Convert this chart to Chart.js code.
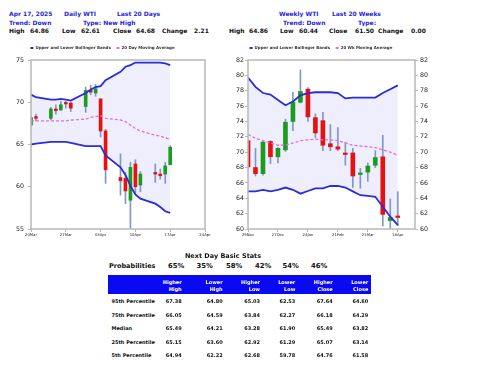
<!DOCTYPE html>
<html>
<head>
<meta charset="utf-8">
<script src="https://cdn.jsdelivr.net/npm/chart.js@4.4.0/dist/chart.umd.min.js"></script>
<style>
  body { margin: 0; background: #fff; font-family: "DejaVu Sans", sans-serif; font-weight: bold; }
  #page { position: relative; width: 480px; height: 371px; overflow: hidden; }
  .t { position: absolute; white-space: nowrap; line-height: 10px; height: 10px; }
  canvas { position: absolute; }
</style>
</head>
<body>
<div id="page">
  <canvas id="dailyChart" width="240" height="197" style="left:0;top:46px"></canvas>
  <canvas id="weeklyChart" width="238" height="197" style="left:202px;top:46px"></canvas>
</div>
<script>
// daily WTI, last 20 days
const dailyDates = ['2025-03-20', '2025-03-21', '2025-03-24', '2025-03-25', '2025-03-26', '2025-03-27', '2025-03-28',
  '2025-03-31', '2025-04-01', '2025-04-02', '2025-04-03', '2025-04-04', '2025-04-07', '2025-04-08', '2025-04-09',
  '2025-04-10', '2025-04-11', '2025-04-14', '2025-04-15', '2025-04-16', '2025-04-17'];
const dailyOpen = [67.3, 68.3, 68.1, 69.2, 69.1, 69.9, 69.9, 69.5, 71.4, 71.1, 70.4, 66.6, 61.1, 61.0, 58.4, 62.7, 60.2, 61.7, 61.5, 61.5, 62.6];
const dailyHigh = [68.3, 68.6, 69.4, 69.7, 70.1, 70.1, 70.0, 71.8, 72.0, 72.1, 70.4, 66.8, 63.9, 61.7, 62.9, 63.2, 61.8, 62.7, 62.1, 62.9, 64.86];
const dailyLow = [67.2, 67.8, 67.9, 68.6, 69.0, 69.3, 68.9, 68.8, 70.9, 70.7, 65.9, 60.4, 59.0, 58.0, 55.1, 59.3, 59.4, 60.5, 60.9, 60.4, 62.61];
const dailyClose = [68.2, 68.1, 69.2, 69.0, 69.7, 69.8, 69.3, 71.4, 71.2, 71.6, 66.6, 62.0, 60.7, 59.5, 62.3, 60.0, 61.5, 61.5, 61.3, 62.47, 64.68];
const dailyUpper = [70.9, 70.6, 70.3, 70.3, 70.4, 70.3, 70.2, 71.1, 71.5, 71.8, 71.9, 72.6, 73.6, 74.2, 74.4, 74.7, 74.7, 74.7, 74.7, 74.6, 74.4];
const dailyLower = [65.0, 65.1, 65.3, 65.3, 65.3, 65.3, 65.2, 64.8, 64.8, 64.8, 64.8, 63.7, 62.3, 61.4, 60.1, 59.1, 58.6, 58.0, 57.6, 57.1, 56.9];
const dailyAverage = [67.8, 67.8, 67.8, 67.8, 67.8, 67.8, 67.9, 68.0, 68.2, 68.3, 68.4, 68.1, 67.9, 67.7, 67.3, 66.9, 66.6, 66.1, 66.0, 65.8, 65.6];
const dailyTickDates = ['2025-03-20', '2025-03-27', '2025-04-03', '2025-04-10', '2025-04-17', '2025-04-24'];
const dailyTickLabels = ['20Mar', '27Mar', '03Apr', '10Apr', '17Apr', '24Apr'];

// weekly WTI, last 20 weeks
const weeklyDates = ['2024-11-29', '2024-12-06', '2024-12-13', '2024-12-20', '2024-12-27', '2025-01-03', '2025-01-10',
  '2025-01-17', '2025-01-24', '2025-01-31', '2025-02-07', '2025-02-14', '2025-02-21', '2025-02-28', '2025-03-07',
  '2025-03-14', '2025-03-21', '2025-03-28', '2025-04-04', '2025-04-11', '2025-04-18'];
const weeklyOpen = [71.5, 68.0, 67.2, 71.4, 69.4, 70.3, 74.0, 76.5, 78.2, 74.5, 74.1, 71.1, 70.7, 69.8, 69.9, 67.1, 67.4, 68.3, 69.4, 61.1, 61.7];
const weeklyHigh = [71.6, 70.5, 71.4, 71.5, 70.6, 74.3, 77.8, 80.7, 78.4, 75.0, 75.2, 73.6, 73.2, 71.3, 70.5, 67.9, 68.6, 70.2, 72.2, 63.9, 64.86];
const weeklyLow = [67.9, 66.9, 67.0, 68.5, 68.6, 70.1, 72.8, 76.4, 74.0, 71.9, 70.2, 70.2, 70.2, 68.3, 65.4, 65.3, 66.2, 68.0, 60.4, 59.5, 60.44];
const weeklyClose = [68.1, 67.2, 71.3, 69.4, 70.5, 73.9, 76.5, 77.9, 74.6, 72.5, 70.9, 70.7, 70.4, 69.7, 66.9, 67.2, 68.2, 69.3, 61.9, 61.5, 61.50];
const weeklyUpper = [79.7, 78.5, 77.7, 77.5, 76.8, 76.1, 76.6, 77.4, 77.7, 77.8, 77.8, 77.8, 77.7, 77.0, 77.1, 77.1, 77.1, 77.1, 77.7, 78.2, 78.7];
const weeklyLower = [64.9, 64.9, 65.1, 64.9, 65.1, 65.4, 65.1, 64.6, 64.95, 65.3, 65.3, 65.6, 65.6, 65.4, 64.9, 64.4, 64.3, 64.2, 62.9, 61.6, 60.5];
const weeklyAverage = [72.3, 71.8, 71.5, 71.2, 70.9, 70.9, 71.2, 71.5, 71.6, 71.7, 71.6, 71.6, 71.5, 71.2, 70.9, 70.8, 70.7, 70.6, 70.3, 70.0, 69.6];
const weeklyTickDates = ['2024-11-29', '2024-12-27', '2025-01-24', '2025-02-21', '2025-03-21', '2025-04-18'];
const weeklyTickLabels = ['29Nov', '27Dec', '24Jan', '21Feb', '21Mar', '18Apr'];

// header texts
const dailyTitle = ['Apr 17, 2025', 'Daily WTI', 'Last 20 Days'];
const dailyTrend = ['Trend: Down', 'Type: New High'];
const weeklyTitle = ['Weekly WTI', 'Last 20 Weeks'];
const weeklyTrend = ['Trend: Down', 'Type:'];
const quoteNames = ['High', 'Low', 'Close', 'Change'];
const dailyQuote = ['64.86', '62.61', '64.68', '2.21'];
const weeklyQuote = ['64.86', '60.44', '61.50', '0.00'];

// next day stats table
const probabilities = ['65%', '35%', '58%', '42%', '54%', '46%'];
const statHeaders = [['Higher', 'High'], ['Lower', 'High'], ['Higher', 'Low'], ['Lower', 'Low'], ['Higher', 'Close'], ['Lower', 'Close']];
const statRows = ['95th Percentile', '75th Percentile', 'Median', '25th Percentile', '5th Percentile'];
const higherHigh = ['67.38', '66.05', '65.49', '65.15', '64.94'];
const lowerHigh = ['64.80', '64.59', '64.21', '63.60', '62.22'];
const higherLow = ['65.03', '63.84', '63.28', '62.92', '62.68'];
const lowerLow = ['62.53', '62.27', '61.90', '61.29', '59.78'];
const higherClose = ['67.64', '66.18', '65.49', '65.07', '64.76'];
const lowerClose = ['64.60', '64.29', '63.82', '63.14', '61.58'];

const BLUE_TEXT = '#1f1fe0';
const UP = '#1c9c1c';
const DOWN = '#e51212';
const WICK = '#8097c8';
const BAND = '#2b2bdb';
const AVG = '#e070e0';
const BAND_FILL = '#eeeefc';
const AXIS = '#b8b8b8';

const page = document.getElementById('page');

function put(text, x, y, size, color, align) {
	const el = document.createElement('div');
	el.className = 't';
	el.textContent = text;
	el.style.left = x + 'px';
	el.style.top = (y - 5) + 'px';
	el.style.fontSize = size + 'px';
	el.style.color = color;
	if (align === 'right') el.style.transform = 'translateX(-100%)';
	if (align === 'center') el.style.transform = 'translateX(-50%)';
	page.appendChild(el);
}

// headers
[9, 64, 117].forEach((x, i) => put(dailyTitle[i], x, 14, 6, BLUE_TEXT));
[9, 83].forEach((x, i) => put(dailyTrend[i], x, 22.7, 6, BLUE_TEXT));
[279, 332].forEach((x, i) => put(weeklyTitle[i], x, 14, 6, BLUE_TEXT));
[283, 358].forEach((x, i) => put(weeklyTrend[i], x, 22.7, 6, BLUE_TEXT));
[9, 62, 113, 162].forEach((x, i) => put(quoteNames[i], x, 31.3, 6, '#111'));
[30, 81, 136, 194].forEach((x, i) => put(dailyQuote[i], x, 31.3, 6, '#111'));
[229, 280, 329, 378].forEach((x, i) => put(quoteNames[i], x, 31.3, 6, '#111'));
[249, 299, 355, 411].forEach((x, i) => put(weeklyQuote[i], x, 31.3, 6, '#111'));

// table
put('Next Day Basic Stats', 223, 256, 6.5, '#111', 'center');
put('Probabilities', 109, 265.7, 6.5, '#111');
[168, 196.5, 226, 255, 282.5, 311].forEach((x, i) => put(probabilities[i], x, 265.7, 6.8, '#111'));

const bar = document.createElement('div');
bar.style.cssText = 'position:absolute;left:108px;top:275px;width:263px;height:19px;background:#0a0af2';
page.appendChild(bar);

const colRight = [181.7, 222.7, 260, 295.3, 332.7, 368.3];
const columns = [higherHigh, lowerHigh, higherLow, lowerLow, higherClose, lowerClose];
statHeaders.forEach((h, i) => {
	put(h[0], colRight[i], 282, 5, '#fff', 'right');
	put(h[1], colRight[i], 288.7, 5, '#fff', 'right');
});
const rowY = [301, 315, 328, 341.7, 354.7];
statRows.forEach((name, r) => {
	put(name, 111.5, rowY[r], 5, '#111');
	columns.forEach((col, c) => put(col[r], colRight[c], rowY[r], 5, '#111', 'right'));
});

// charts
const DAY = 86400000;
function offsetDays(date, start) {
	return (Date.parse(date) - Date.parse(start)) / DAY;
}

const frame = {
	id: 'frame',
	afterDraw(chart) {
		const { ctx, chartArea: a } = chart;
		ctx.save();
		ctx.strokeStyle = AXIS;
		ctx.lineWidth = 1.5;
		ctx.strokeRect(a.left, a.top, a.right - a.left, a.bottom - a.top);
		ctx.restore();
	}
};

function legendLabels(chart) {
	return Chart.defaults.plugins.legend.labels.generateLabels(chart)
		.filter(item => item.datasetIndex === 0 || item.datasetIndex === 2)
		.map(item => Object.assign(item, {
			fillStyle: item.strokeStyle,
			lineWidth: 0,
			lineDash: [],
			text: item.datasetIndex === 0 ? item.text + '    ' : item.text
		}));
}

function buildDatasets(xs, open, high, low, close, upper, lower, average, avgLabel, bodyWidth) {
	const pts = values => xs.map((x, i) => ({ x: x, y: values[i] }));
	return [
		{ type: 'line', label: 'Upper and Lower Bollinger Bands', data: pts(upper), borderColor: BAND, borderWidth: 1.8,
			backgroundColor: BAND_FILL, fill: '+1', pointRadius: 0, tension: 0, order: 0 },
		{ type: 'line', label: 'Lower Band', data: pts(lower), borderColor: BAND, borderWidth: 1.8,
			fill: false, pointRadius: 0, tension: 0, order: 0 },
		{ type: 'line', label: avgLabel, data: pts(average), borderColor: AVG, borderWidth: 1.3, borderDash: [3, 2],
			fill: false, pointRadius: 0, tension: 0, order: 0 },
		{ type: 'bar', label: 'Body', data: xs.map((x, i) => ({ x: x, y: [open[i], close[i]] })),
			backgroundColor: close.map((c, i) => c >= open[i] ? UP : DOWN),
			barThickness: bodyWidth, grouped: false, minBarLength: 1.5, order: 1 },
		{ type: 'bar', label: 'Wick', data: xs.map((x, i) => ({ x: x, y: [low[i], high[i]] })),
			backgroundColor: WICK, barThickness: 1, grouped: false, order: 2 }
	];
}

function xAxis(max, tickValues, tickLabels) {
	return {
		type: 'linear', min: 0, max: max, offset: false,
		grid: { drawOnChartArea: false, drawTicks: true, tickLength: 3, color: AXIS, offset: false },
		border: { display: false },
		afterBuildTicks: axis => { axis.ticks = tickValues.map(v => ({ value: v })); },
		afterFit: axis => { axis.height = 14; },
		ticks: { callback: (v, i) => tickLabels[i], autoSkip: false, maxRotation: 0, padding: 1,
			color: '#222', font: { family: 'DejaVu Sans', size: 3.8 } }
	};
}

function yAxis(min, max, step, position, width, padding) {
	return {
		type: 'linear', position: position, min: min, max: max, beginAtZero: false,
		grid: { drawOnChartArea: false, drawTicks: true, tickLength: 3, color: AXIS },
		border: { display: false },
		afterFit: axis => { axis.width = width; },
		ticks: { stepSize: step, padding: padding, color: '#222', font: { family: 'DejaVu Sans', size: 6.3 } }
	};
}

function baseOptions(scales, rightPad) {
	return {
		responsive: false,
		animation: false,
		devicePixelRatio: 1,
		layout: { padding: { left: 0, right: rightPad, top: 0, bottom: 0 } },
		scales: scales,
		plugins: {
			filler: { drawTime: 'beforeDatasetsDraw' },
			tooltip: { enabled: false },
			legend: {
				position: 'top',
				labels: {
					boxWidth: 3, boxHeight: 2, padding: 0, color: '#333',
					font: { family: 'DejaVu Sans', size: 4, weight: 'bold' },
					generateLabels: legendLabels
				}
			}
		}
	};
}

const dailyX = dailyDates.map(d => offsetDays(d, dailyDates[0]));
const dailyTicks = dailyTickDates.map(d => offsetDays(d, dailyDates[0]));

new Chart(document.getElementById('dailyChart'), {
	type: 'bar',
	data: {
		datasets: buildDatasets(dailyX, dailyOpen, dailyHigh, dailyLow, dailyClose,
			dailyUpper, dailyLower, dailyAverage, '20 Day Moving Average', 3)
	},
	options: baseOptions({
		x: xAxis(dailyTicks[dailyTicks.length - 1], dailyTicks, dailyTickLabels),
		y: yAxis(55, 75, 5, 'left', 31, 4)
	}, 35),
	plugins: [frame]
});

const weeklyX = weeklyDates.map(d => offsetDays(d, weeklyDates[0]) / 7);
const weeklyTicks = weeklyTickDates.map(d => offsetDays(d, weeklyDates[0]) / 7);

new Chart(document.getElementById('weeklyChart'), {
	type: 'bar',
	data: {
		datasets: buildDatasets(weeklyX, weeklyOpen, weeklyHigh, weeklyLow, weeklyClose,
			weeklyUpper, weeklyLower, weeklyAverage, '20 Wk Moving Average', 4)
	},
	options: baseOptions({
		x: xAxis(22.3, weeklyTicks, weeklyTickLabels),
		y: yAxis(60, 82, 2, 'left', 46, 1),
		y2: yAxis(60, 82, 2, 'right', 25, 2)
	}, 0),
	plugins: [frame]
});
</script>
</body>
</html>
